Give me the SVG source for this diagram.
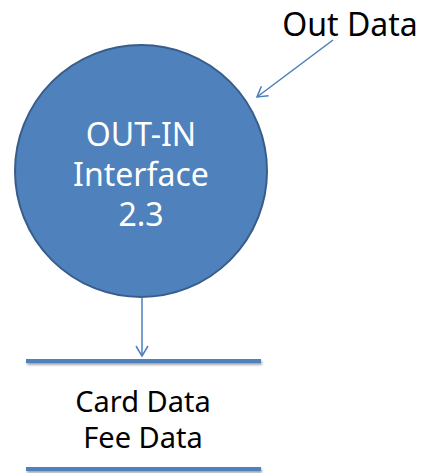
<svg xmlns="http://www.w3.org/2000/svg" width="424" height="473" viewBox="0 0 424 473">
<defs>
<marker id="ah" markerWidth="14" markerHeight="14" refX="11" refY="7" orient="auto" markerUnits="userSpaceOnUse">
<path d="M1,1 L11,7 L1,13" fill="none" stroke="#4A7EBB" stroke-width="1.5"/>
</marker>
<filter id="sh" filterUnits="userSpaceOnUse" x="0" y="340" width="424" height="140">
<feDropShadow dx="1" dy="2" stdDeviation="1.2" flood-color="#000" flood-opacity="0.35"/>
</filter>
</defs>
<style>
.t{font-family:"Noto Sans","Open Sans","DejaVu Sans",sans-serif;text-anchor:middle}
.w{fill:#fff;font-size:32px}
.k{fill:#000;font-size:29px}
.c{stroke:#4A7EBB;stroke-width:1.5;fill:none}
.bar{fill:#4F81BD}
</style>
<g id="process">
<circle cx="141" cy="171" r="126" fill="#4F81BD" stroke="#385D8A" stroke-width="2"/>
<text class="t w" x="141" y="146">OUT-IN</text>
<text class="t w" x="141" y="186">Interface</text>
<text class="t w" x="141" y="226">2.3</text>
</g>
<g id="outdata">
<text class="t k" x="350" y="36" style="font-size:32px">Out Data</text>
</g>
<g id="store">
<rect class="bar" x="26" y="359" width="235" height="4" filter="url(#sh)"/>
<rect class="bar" x="26" y="467" width="235" height="4" filter="url(#sh)"/>
<text class="t k" x="143" y="412">Card Data</text>
<text class="t k" x="143" y="448">Fee Data</text>
</g>
<g id="connectors">
<line class="c" x1="333" y1="40" x2="257" y2="97" marker-end="url(#ah)"/>
<line class="c" x1="142" y1="297" x2="142" y2="356" marker-end="url(#ah)"/>
</g>
</svg>
